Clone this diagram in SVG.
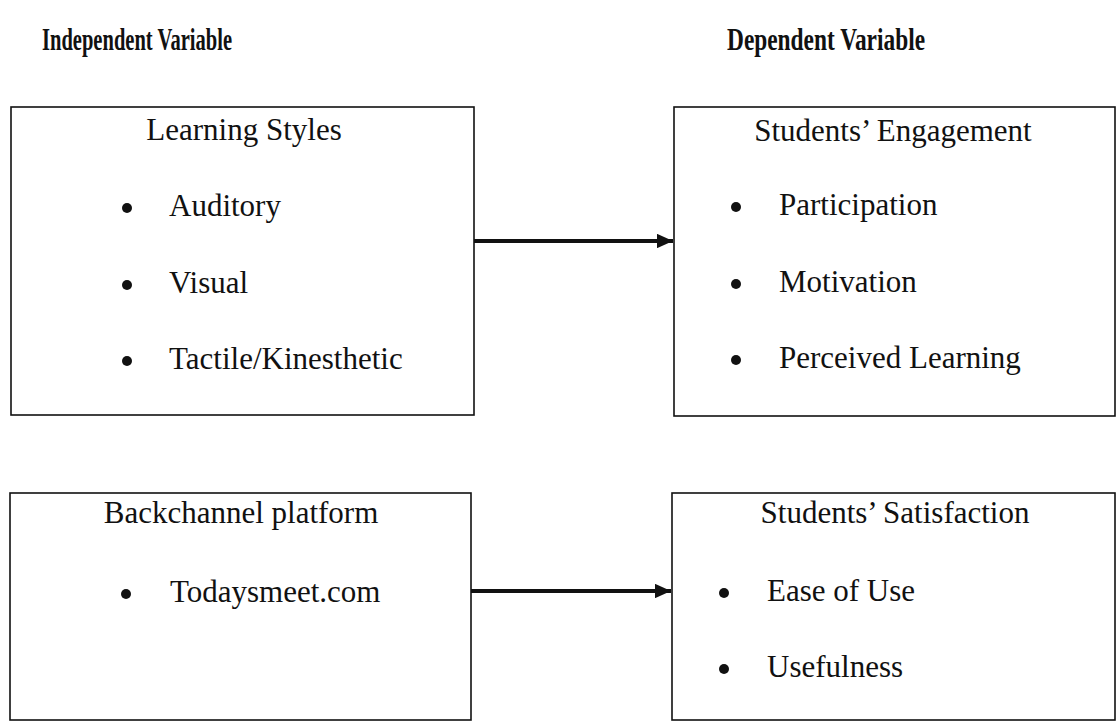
<svg xmlns="http://www.w3.org/2000/svg" width="1116" height="722" viewBox="0 0 1116 722">
<style>
.box{fill:none;stroke:#111;stroke-width:1.6}
.h{font-family:"Liberation Serif","Times New Roman",serif;font-weight:bold;font-size:31px;fill:#111}
.t{font-family:"Liberation Serif","Times New Roman",serif;font-size:31px;fill:#111}
.b{fill:#111}
.conn{stroke:#111;stroke-width:4;fill:none}
</style>
<defs>
<marker id="ah" markerWidth="4" markerHeight="3.6" refX="4" refY="1.8" orient="auto" markerUnits="strokeWidth">
<path d="M0,0 L4,1.8 L0,3.6 Z" fill="#111"/>
</marker>
</defs>
<rect width="1116" height="722" fill="#fff"/>
<g id="headers">
<text class="h" x="42" y="50" textLength="190" lengthAdjust="spacingAndGlyphs">Independent Variable</text>
<text class="h" x="727" y="50" textLength="198" lengthAdjust="spacingAndGlyphs">Dependent Variable</text>
</g>
<g id="learning-styles">
<rect class="box" x="11" y="107" width="463" height="308"/>
<text class="t" x="244" y="140" text-anchor="middle">Learning Styles</text>
<circle class="b" cx="127" cy="208" r="5"/>
<text class="t" x="169" y="216">Auditory</text>
<circle class="b" cx="127" cy="285" r="5"/>
<text class="t" x="169" y="293">Visual</text>
<circle class="b" cx="127" cy="361" r="5"/>
<text class="t" x="169" y="369">Tactile/Kinesthetic</text>
</g>
<g id="students-engagement">
<rect class="box" x="674" y="107" width="441" height="309"/>
<text class="t" x="893" y="141" text-anchor="middle">Students’ Engagement</text>
<circle class="b" cx="736" cy="207" r="5"/>
<text class="t" x="779" y="215">Participation</text>
<circle class="b" cx="736" cy="284" r="5"/>
<text class="t" x="779" y="292">Motivation</text>
<circle class="b" cx="736" cy="360" r="5"/>
<text class="t" x="779" y="368">Perceived Learning</text>
</g>
<g id="backchannel">
<rect class="box" x="10" y="493" width="461" height="227"/>
<text class="t" x="241" y="523" text-anchor="middle">Backchannel platform</text>
<circle class="b" cx="126" cy="594" r="5"/>
<text class="t" x="170" y="602">Todaysmeet.com</text>
</g>
<g id="students-satisfaction">
<rect class="box" x="672" y="493" width="443" height="227"/>
<text class="t" x="895" y="523" text-anchor="middle">Students’ Satisfaction</text>
<circle class="b" cx="724" cy="593" r="5"/>
<text class="t" x="767" y="601">Ease of Use</text>
<circle class="b" cx="724" cy="669" r="5"/>
<text class="t" x="767" y="677">Usefulness</text>
</g>
<g id="connectors">
<line class="conn" x1="474" y1="241" x2="673" y2="241" marker-end="url(#ah)"/>
<line class="conn" x1="471" y1="591" x2="671" y2="591" marker-end="url(#ah)"/>
</g>
</svg>
